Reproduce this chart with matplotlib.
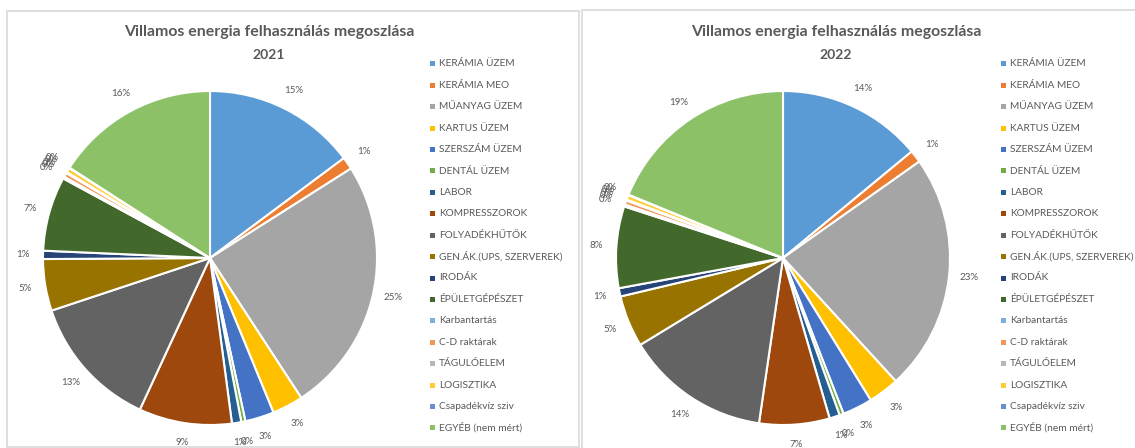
import matplotlib.pyplot as plt
from matplotlib.patches import Rectangle

plt.rcParams['font.family'] = ['Lato', 'DejaVu Sans']

# kategóriák
categories = ['KERÁMIA ÜZEM', 'KERÁMIA MEO', 'MŰANYAG ÜZEM', 'KARTUS ÜZEM',
              'SZERSZÁM ÜZEM', 'DENTÁL ÜZEM', 'LABOR', 'KOMPRESSZOROK',
              'FOLYADÉKHŰTŐK', 'GEN.ÁK.(UPS, SZERVEREK)', 'IRODÁK',
              'ÉPÜLETGÉPÉSZET', 'Karbantartás', 'C-D raktárak', 'TÁGULÓELEM',
              'LOGISZTIKA', 'Csapadékvíz sziv', 'EGYÉB (nem mért)']

# megoszlás (%)
share_2021 = [14.8, 1.2, 24.8, 3.0, 2.8, 0.4, 0.9, 9.0, 13.0, 5.0, 0.8,
              7.2, 0.2, 0.4, 0.1, 0.45, 0.05, 15.9]
share_2022 = [14.0, 1.2, 23.0, 3.0, 2.9, 0.4, 1.0, 6.8, 14.0, 5.0, 0.8,
              7.9, 0.2, 0.4, 0.1, 0.45, 0.05, 18.8]

colors = ['#5B9BD5', '#ED7D31', '#A5A5A5', '#FFC000', '#4472C4', '#70AD47',
          '#255E91', '#9E480E', '#636363', '#997300', '#264478', '#43682B',
          '#7CAFDD', '#F1975A', '#B7B7B7', '#FFCD33', '#698ED0', '#8CC168']

W, H = 1135, 448
fig = plt.figure(figsize=(W / 100, H / 100), dpi=100)
txt = '#595959'

def px(x, y, w, h):
    # pixel coords (top-left origin) -> figure fraction
    return [x / W, 1 - (y + h) / H, w / W, h / H]

panels = [
    # (year, data, panel box, pie center x, legend x, title x)
    ('2021', share_2021, (7, 11, 572, 436), 210, 432, 269),
    ('2022', share_2022, (582, 10, 580, 440), 783, 1003, 836),
]

for year, data, box, cx, lx, tx in panels:
    bx, by, bw, bh = box
    fig.patches.append(Rectangle((bx / W, 1 - (by + bh) / H), bw / W, bh / H,
                                 transform=fig.transFigure, fill=False,
                                 edgecolor='#D9D9D9', linewidth=1.2))

    r = 167
    ax = fig.add_axes(px(cx - r, 258 - r, 2 * r, 2 * r))
    wedges, texts, autotexts = ax.pie(
        data, colors=colors, startangle=90, counterclock=False,
        autopct='%.0f%%', pctdistance=1.12,
        wedgeprops=dict(edgecolor='white', linewidth=1.5),
        textprops=dict(color=txt, fontsize=7))
    ax.set_xlim(-1, 1)
    ax.set_ylim(-1, 1)
    ax.set_aspect('equal')

    fig.text(tx / W, 1 - 32 / H, 'Villamos energia felhasználás megoszlása',
             ha='center', va='center', fontsize=11.4, fontweight='bold', color=txt)
    fig.text(tx / W, 1 - 55 / H, year, ha='center', va='center',
             fontsize=10, fontweight='bold', color=txt)

    # jelmagyarázat
    for i, (name, c) in enumerate(zip(categories, colors)):
        y = 64 + i * 21.4
        fig.patches.append(Rectangle(((lx - 2.5) / W, 1 - (y + 2.5) / H), 5 / W, 5 / H,
                                     transform=fig.transFigure, facecolor=c,
                                     edgecolor='none'))
        fig.text((lx + 7) / W, 1 - y / H, name, ha='left', va='center',
                 fontsize=7.3, color=txt)

fig.savefig('out.png', dpi=100)
